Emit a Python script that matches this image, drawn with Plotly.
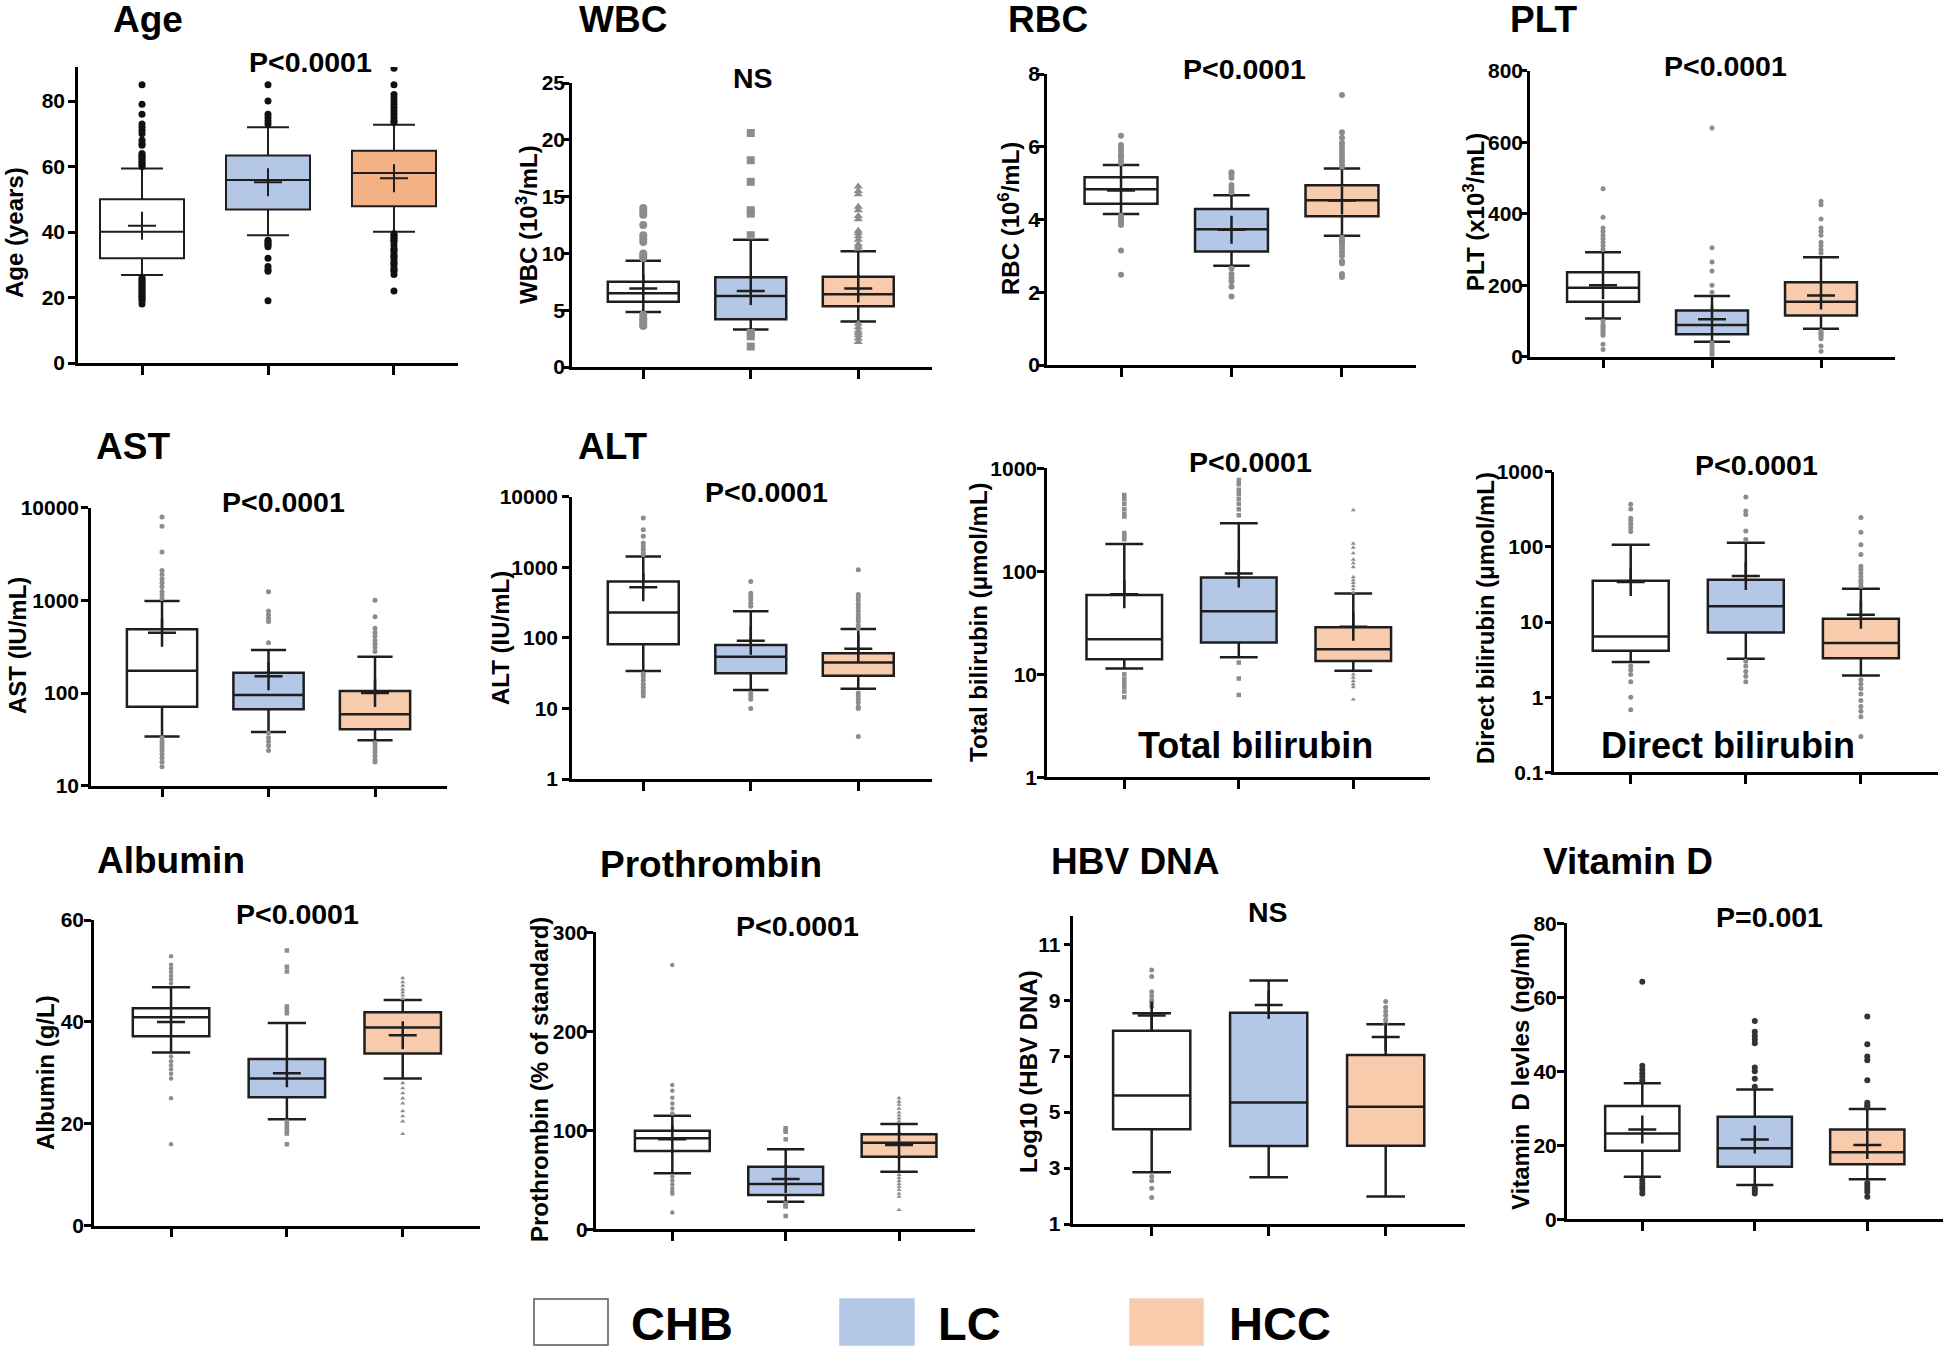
import plotly.graph_objects as go

# ======================= DATA =======================
groups = ["CHB", "LC", "HCC"]

# Age (years)
age_lower = [26.9, 39.0, 40.1]
age_q1 = [32.0, 46.9, 47.9]
age_median = [40.1, 55.9, 58.0]
age_q3 = [50.0, 63.4, 64.8]
age_upper = [59.4, 72.0, 72.8]
age_mean = [41.9, 55.2, 56.4]
age_out_chb = [60, 60.5, 61, 61.5, 62, 62.5, 63, 63.5, 64, 66.5, 67, 68, 70, 71, 72, 73, 76, 79, 85,
               26, 25.5, 25, 24.5, 24, 23.5, 23, 22.5, 22, 21.5, 21, 20.5, 20, 19.5, 19, 18]
age_out_lc = [73, 74, 75, 76, 80, 85, 37.5, 37, 36.5, 36, 35.5, 32, 29.5, 28.5, 28, 19]
age_out_hcc = [73.5, 74, 75, 76, 77, 78, 79, 80, 81, 82, 85, 90, 39.5, 39, 38.5, 38, 37.5, 37, 36, 35,
               34.5, 34, 33, 32.5, 32, 31, 30.5, 30, 29, 28.5, 28, 27, 22]

# WBC (10^3/mL)
wbc_lower = [4.85, 3.3, 4.0]
wbc_q1 = [5.75, 4.2, 5.35]
wbc_median = [6.5, 6.25, 6.4]
wbc_q3 = [7.5, 7.9, 7.95]
wbc_upper = [9.35, 11.2, 10.2]
wbc_mean = [6.9, 6.7, 6.9]
wbc_out_chb = [9.6, 9.8, 10.0, 11.0, 11.3, 11.6, 12.5, 13.4, 13.7, 14.0, 4.6, 4.3, 4.1, 3.9, 3.7, 3.6]
wbc_out_lc = [11.6, 13.5, 13.8, 16.3, 18.2, 20.6, 3.0, 2.7, 1.8]
wbc_out_hcc = [10.4, 10.6, 10.8, 11.2, 11.5, 11.8, 12.0, 13.0, 13.3, 13.8, 14.1, 15.2, 15.5, 15.9,
               3.8, 3.5, 3.2, 3.0, 2.8, 2.5, 2.2]

# RBC (10^6/mL)
rbc_lower = [4.15, 2.73, 3.55]
rbc_q1 = [4.43, 3.12, 4.09]
rbc_median = [4.83, 3.73, 4.53]
rbc_q3 = [5.16, 4.29, 4.94]
rbc_upper = [5.5, 4.67, 5.4]
rbc_mean = [4.8, 3.72, 4.52]
rbc_out_chb = [5.55, 5.6, 5.7, 5.75, 5.8, 5.9, 6.0, 6.05, 6.3, 4.1, 4.05, 4.0, 3.95, 3.9, 3.85, 3.15, 2.48]
rbc_out_lc = [4.75, 4.85, 4.95, 5.15, 5.25, 5.3, 2.65, 2.5, 2.4, 2.3, 2.15, 1.88]
rbc_out_hcc = [5.45, 5.5, 5.6, 5.7, 5.8, 5.9, 6.0, 6.1, 6.25, 6.4, 7.42, 3.5, 3.45, 3.4, 3.35, 3.3,
               3.2, 3.1, 3.0, 2.85, 2.8, 2.5, 2.42]

# PLT (x10^3/mL)
plt_lower = [107, 42, 78]
plt_q1 = [154, 63, 115]
plt_median = [193, 89, 154]
plt_q3 = [236, 129, 208]
plt_upper = [292, 170, 278]
plt_mean = [200, 105, 171]
plt_out_chb = [300, 310, 320, 330, 340, 350, 360, 390, 470, 100, 90, 85, 80, 75, 70, 65, 60, 35, 20]
plt_out_lc = [180, 200, 240, 265, 305, 640, 38, 30, 25, 18, 10, 5]
plt_out_hcc = [290, 300, 310, 320, 340, 350, 360, 385, 425, 435, 72, 68, 64, 60, 55, 50, 30, 15]

# AST (IU/mL)
ast_lower = [34, 38, 31]
ast_q1 = [71, 66.7, 40.6]
ast_median = [174, 95, 59]
ast_q3 = [487, 165.6, 105]
ast_upper = [984, 291, 246]
ast_mean = [447, 152, 100]
ast_out_chb = [7950, 6300, 3330, 2100, 1900, 1700, 1550, 1400, 1250, 1150, 1050,
               33, 30, 28, 26, 24, 22, 20, 18, 16]
ast_out_lc = [1240, 770, 700, 640, 590, 348, 37, 33, 30, 27, 24]
ast_out_hcc = [1000, 665, 500, 450, 410, 370, 340, 310, 280, 29, 27, 25, 23, 21, 19, 18]

# ALT (IU/mL)
alt_lower = [34, 18.3, 19]
alt_q1 = [81, 31.6, 29]
alt_median = [229, 54, 44.7]
alt_q3 = [627, 79.5, 60.7]
alt_upper = [1420, 239, 133]
alt_mean = [523, 91, 70]
alt_out_chb = [5000, 3400, 2750, 2200, 2000, 1800, 1600, 1500, 31, 28, 25, 22, 20, 18, 16.5, 15]
alt_out_lc = [630, 430, 390, 350, 310, 280, 16.5, 15, 13.5, 10]
alt_out_hcc = [922, 410, 380, 340, 300, 270, 240, 210, 190, 170, 150, 135,
               16.5, 15, 13.5, 12, 10.5, 10, 4]

# Total bilirubin (umol/mL)
tbil_lower = [11.4, 14.6, 10.8]
tbil_q1 = [14.0, 20.4, 13.5]
tbil_median = [21.9, 41.0, 17.5]
tbil_q3 = [58.8, 87.0, 28.6]
tbil_upper = [184, 292, 61]
tbil_mean = [60, 95, 29]
tbil_out_chb = [550, 500, 450, 400, 360, 340, 235, 220, 205, 10, 9, 8.2, 7.5, 6.8, 6.0]
tbil_out_lc = [770, 700, 620, 560, 500, 450, 400, 350, 13, 9.1, 6.3]
tbil_out_hcc = [393, 186, 170, 150, 130, 120, 110, 88, 82, 77, 72, 67, 62, 10, 9.3, 8.6, 8.0, 7.5, 5.7]

# Direct bilirubin (umol/mL)
dbil_lower = [2.93, 3.24, 1.94]
dbil_q1 = [4.14, 7.25, 3.3]
dbil_median = [6.43, 16.2, 5.25]
dbil_q3 = [35.5, 36.6, 11.07]
dbil_upper = [107, 113, 27.8]
dbil_mean = [34, 41, 12.5]
dbil_out_chb = [370, 320, 240, 220, 200, 180, 160, 2.6, 2.3, 2.0, 1.6, 1.0, 0.68]
dbil_out_lc = [460, 300, 270, 163, 125, 3.0, 2.6, 2.2, 1.9, 1.6]
dbil_out_hcc = [245, 157, 107, 79, 55, 50, 45, 40, 36, 33, 30, 1.7, 1.5, 1.3, 1.1, 0.9, 0.75, 0.65, 0.55, 0.3]

# Albumin (g/L)
alb_lower = [34.0, 20.9, 28.9]
alb_q1 = [37.2, 25.2, 33.8]
alb_median = [40.9, 28.9, 38.9]
alb_q3 = [42.7, 32.7, 41.9]
alb_upper = [46.8, 39.8, 44.3]
alb_mean = [40.0, 29.9, 37.4]
alb_out_chb = [52.9, 51.2, 50.5, 49.8, 49, 48.3, 47.6, 33.2, 32.3, 31.5, 30.7, 29.8, 28.9, 25, 16]
alb_out_lc = [54, 50.8, 49.9, 43, 42.4, 41.7, 20.4, 19.8, 19.2, 18.6, 18.1, 16]
alb_out_hcc = [48.6, 47.8, 47.1, 46.4, 45.8, 45.2, 44.5, 28, 27, 26, 25, 24, 22.5, 21.5, 20.5, 18]

# Prothrombin (% of standard)
pro_lower = [56.6, 27.9, 58.2]
pro_q1 = [79, 34.6, 73.3]
pro_median = [92, 45.8, 87.5]
pro_q3 = [99.6, 63.3, 96]
pro_upper = [114.7, 80.8, 106.4]
pro_mean = [91, 50.8, 85.2]
pro_out_chb = [267, 145.8, 140, 133, 127, 122, 117, 53, 49, 45, 41, 38, 36, 17]
pro_out_lc = [102, 100, 98.6, 91, 26, 24, 23, 13.4]
pro_out_hcc = [132.6, 129, 126, 122, 118, 115, 112, 109, 55, 52, 49, 46, 43, 40, 36, 33, 19.5]

# HBV DNA (log10)
hbv_lower = [2.85, 2.67, 1.98]
hbv_q1 = [4.39, 3.79, 3.8]
hbv_median = [5.59, 5.34, 5.19]
hbv_q3 = [7.91, 8.55, 7.04]
hbv_upper = [8.53, 9.7, 8.14]
hbv_mean = [8.45, 8.83, 7.68]
hbv_out_chb = [10.08, 9.85, 9.3, 9.15, 9.0, 8.9, 8.77, 2.7, 2.55, 2.28, 1.95]
hbv_out_lc = []
hbv_out_hcc = [8.95, 8.75, 8.6, 8.45, 8.3, 8.18]

# Vitamin D (ng/ml)
vitd_lower = [11.5, 9.3, 10.8]
vitd_q1 = [18.5, 14.2, 14.9]
vitd_median = [23.2, 19.2, 18.1]
vitd_q3 = [30.6, 27.7, 24.3]
vitd_upper = [36.8, 35.1, 29.8]
vitd_mean = [24.3, 21.6, 20.1]
vitd_out_chb = [64.2, 41.5, 40.5, 39.5, 38.5, 37.6, 10.6, 9.7, 8.8, 8.0, 7.0]
vitd_out_lc = [53.6, 50.7, 49.6, 48.6, 47.6, 41, 40, 38, 35.8, 8.4, 7.7, 7.0]
vitd_out_hcc = [54.8, 47.3, 44, 43, 37.6, 31.5, 30.8, 30.4, 9.8, 9.0, 8.2, 7.4, 6.1]

# ======================= LAYOUT / STYLE =======================
FONT = "Liberation Sans, Arial, Helvetica, sans-serif"
FW, FH = 1946, 1350

def fx(px):
    return min(1.0, max(0.0, px / FW))

def fy(py):
    return min(1.0, max(0.0, 1 - py / FH))

fills = ["#ffffff", "#b4c7e7", "#f8cbad"]
GRAY = "#8c8c8c"
LINE = "#1e1e1e"

panels = [
    dict(title="Age", ytitle="Age (years)", p="P<0.0001",
         stats=(age_lower, age_q1, age_median, age_q3, age_upper, age_mean),
         outs=(age_out_chb, age_out_lc, age_out_hcc),
         box=(78, 458, 67, 363), xr=[-0.508, 2.508], yr=[0, 90.4], log=False,
         tv=[0, 20, 40, 60, 80], tt=None, bw=0.667, so=-1,
         tpos=(148, 19), ppos=(310, 62), ytpos=(14, 233),
         mk=dict(sym=["circle"] * 3, size=7, color="#111111"),
         fills=["#ffffff", "#b4c7e7", "#f4b183"], lw=2.0),
    dict(title="WBC", ytitle="WBC (10<sup>3</sup>/mL)", p="NS",
         stats=(wbc_lower, wbc_q1, wbc_median, wbc_q3, wbc_upper, wbc_mean),
         outs=(wbc_out_chb, wbc_out_lc, wbc_out_hcc),
         box=(572, 932, 83, 367), xr=[-0.663, 2.686], yr=[0, 25], log=False,
         tv=[0, 5, 10, 15, 20, 25], tt=None, bw=0.66, so=-7,
         tpos=(623, 19), ppos=(753, 78), ytpos=(527, 225),
         mk=dict(sym=["circle", "square", "triangle-up"], size=8, color=GRAY)),
    dict(title="RBC", ytitle="RBC (10<sup>6</sup>/mL)", p="P<0.0001",
         stats=(rbc_lower, rbc_q1, rbc_median, rbc_q3, rbc_upper, rbc_mean),
         outs=(rbc_out_chb, rbc_out_lc, rbc_out_hcc),
         box=(1047, 1416, 74, 365), xr=[-0.67, 2.67], yr=[0, 8], log=False,
         tv=[0, 2, 4, 6, 8], tt=None, bw=0.66, so=-7,
         tpos=(1048, 19), ppos=(1244, 69), ytpos=(1009, 219),
         mk=dict(sym=["circle"] * 3, size=6, color=GRAY)),
    dict(title="PLT", ytitle="PLT (x10<sup>3</sup>/mL)", p="P<0.0001",
         stats=(plt_lower, plt_q1, plt_median, plt_q3, plt_upper, plt_mean),
         outs=(plt_out_chb, plt_out_lc, plt_out_hcc),
         box=(1530, 1895, 70.7, 356.7), xr=[-0.67, 2.679], yr=[0, 800], log=False,
         tv=[0, 200, 400, 600, 800], tt=None, bw=0.66, so=-7,
         tpos=(1544, 19), ppos=(1725, 66), ytpos=(1474, 212),
         mk=dict(sym=["circle"] * 3, size=5, color=GRAY)),
    dict(title="AST", ytitle="AST (IU/mL)", p="P<0.0001",
         stats=(ast_lower, ast_q1, ast_median, ast_q3, ast_upper, ast_mean),
         outs=(ast_out_chb, ast_out_lc, ast_out_hcc),
         box=(91, 447, 507.7, 785.7), xr=[-0.667, 2.676], yr=[1, 4], log=True,
         tv=[10, 100, 1000, 10000], tt=["10", "100", "1000", "10000"], bw=0.66, so=-2,
         tpos=(133, 446), ppos=(283, 502), ytpos=(17, 646),
         mk=dict(sym=["circle"] * 3, size=5, color=GRAY)),
    dict(title="ALT", ytitle="ALT (IU/mL)", p="P<0.0001",
         stats=(alt_lower, alt_q1, alt_median, alt_q3, alt_upper, alt_mean),
         outs=(alt_out_chb, alt_out_lc, alt_out_hcc),
         box=(572, 931.7, 496.7, 779), xr=[-0.663, 2.683], yr=[0, 4], log=True,
         tv=[1, 10, 100, 1000, 10000], tt=["1", "10", "100", "1000", "10000"], bw=0.66, so=0,
         tpos=(613, 446), ppos=(766, 492), ytpos=(500, 638),
         mk=dict(sym=["circle"] * 3, size=5, color=GRAY)),
    dict(title=None, ytitle="Total bilirubin (μmol/mL)", p="P<0.0001",
         stats=(tbil_lower, tbil_q1, tbil_median, tbil_q3, tbil_upper, tbil_mean),
         outs=(tbil_out_chb, tbil_out_lc, tbil_out_hcc),
         box=(1047, 1430, 468.3, 777.3), xr=[-0.675, 2.67], yr=[0, 3], log=True,
         tv=[1, 10, 100, 1000], tt=["1", "10", "100", "1000"], bw=0.66, so=-4,
         tpos=None, ppos=(1250, 462), ytpos=(979, 622),
         inlabel=("Total bilirubin", 1255, 745),
         mk=dict(sym=["square", "square", "triangle-up"], size=4.5, color=GRAY)),
    dict(title=None, ytitle="Direct bilirubin (μmol/mL)", p="P<0.0001",
         stats=(dbil_lower, dbil_q1, dbil_median, dbil_q3, dbil_upper, dbil_mean),
         outs=(dbil_out_chb, dbil_out_lc, dbil_out_hcc),
         box=(1554.3, 1938, 471.7, 772.3), xr=[-0.664, 2.67], yr=[-1, 3], log=True,
         tv=[0.1, 1, 10, 100, 1000], tt=["0.1", "1", "10", "100", "1000"], bw=0.66, so=-3,
         tpos=None, ppos=(1756, 465), ytpos=(1485, 618),
         inlabel=("Direct bilirubin", 1728, 745),
         mk=dict(sym=["circle"] * 3, size=5, color=GRAY)),
    dict(title="Albumin", ytitle="Albumin (g/L)", p="P<0.0001",
         stats=(alb_lower, alb_q1, alb_median, alb_q3, alb_upper, alb_mean),
         outs=(alb_out_chb, alb_out_lc, alb_out_hcc),
         box=(94, 480, 920, 1225.7), xr=[-0.665, 2.667], yr=[0, 60], log=False,
         tv=[0, 20, 40, 60], tt=None, bw=0.66, so=-4,
         tpos=(171, 860), ppos=(297, 914), ytpos=(45, 1073),
         mk=dict(sym=["circle", "square", "triangle-up"], size=4.5, color=GRAY)),
    dict(title="Prothrombin", ytitle="Prothrombin (% of standard)", p="P<0.0001",
         stats=(pro_lower, pro_q1, pro_median, pro_q3, pro_upper, pro_mean),
         outs=(pro_out_chb, pro_out_lc, pro_out_hcc),
         box=(595.7, 975, 932.3, 1229.3), xr=[-0.676, 2.67], yr=[0, 300], log=False,
         tv=[0, 100, 200, 300], tt=None, bw=0.66, so=-6,
         tpos=(711, 864), ppos=(797, 926), ytpos=(539, 1080),
         mk=dict(sym=["circle", "square", "triangle-up"], size=4.5, color=GRAY)),
    dict(title="HBV DNA", ytitle="Log10 (HBV DNA)", p="NS",
         stats=(hbv_lower, hbv_q1, hbv_median, hbv_q3, hbv_upper, hbv_mean),
         outs=(hbv_out_chb, hbv_out_lc, hbv_out_hcc),
         box=(1073.3, 1465, 915.7, 1224), xr=[-0.67, 2.678], yr=[1, 12.02], log=False,
         tv=[1, 3, 5, 7, 9, 11], tt=None, bw=0.66, so=-1,
         tpos=(1135, 861), ppos=(1268, 912), ytpos=(1028, 1072),
         mk=dict(sym=["circle"] * 3, size=5, color=GRAY)),
    dict(title="Vitamin D", ytitle="Vitamin  D levles (ng/ml)", p="P=0.001",
         stats=(vitd_lower, vitd_q1, vitd_median, vitd_q3, vitd_upper, vitd_mean),
         outs=(vitd_out_chb, vitd_out_lc, vitd_out_hcc),
         box=(1566.7, 1943, 923.3, 1219.3), xr=[-0.672, 2.673], yr=[0, 80], log=False,
         tv=[0, 20, 40, 60, 80], tt=None, bw=0.66, so=-4,
         tpos=(1628, 861), ppos=(1769, 917), ytpos=(1520, 1072),
         mk=dict(sym=["circle"] * 3, size=6, color="#333333")),
]

fig = go.Figure()
layout_axes = {}
annotations = []

for i, pn in enumerate(panels):
    n = i + 1
    xa = "x" if n == 1 else f"x{n}"
    ya = "y" if n == 1 else f"y{n}"
    lo, q1, med, q3, hi, mean = pn["stats"]
    pfills = pn.get("fills", fills)
    lw = pn.get("lw", 2.5)

    # outliers (drawn first, behind the whiskers)
    for g in range(3):
        vals = pn["outs"][g]
        if not vals:
            continue
        fig.add_trace(go.Scatter(
            x=[g] * len(vals), y=vals, mode="markers", xaxis=xa, yaxis=ya,
            marker=dict(symbol=pn["mk"]["sym"][g], size=pn["mk"]["size"],
                        color=pn["mk"]["color"], line=dict(width=0)),
            showlegend=False, hoverinfo="y"))

    # boxes from the precomputed statistics
    for g in range(3):
        fig.add_trace(go.Box(
            x=[g], q1=[q1[g]], median=[med[g]], q3=[q3[g]],
            lowerfence=[lo[g]], upperfence=[hi[g]],
            width=pn["bw"], whiskerwidth=0.5, boxpoints=False,
            fillcolor=pfills[g], line=dict(color=LINE, width=lw),
            xaxis=xa, yaxis=ya, name=groups[g], showlegend=False))

    # means as "+"
    fig.add_trace(go.Scatter(
        x=[0, 1, 2], y=mean, mode="markers", xaxis=xa, yaxis=ya,
        marker=dict(symbol="cross-thin", size=20, color=LINE,
                    line=dict(width=lw, color=LINE)),
        showlegend=False, hoverinfo="y"))

    x0, x1, yt, yb = pn["box"]
    xkey = "xaxis" if n == 1 else f"xaxis{n}"
    ykey = "yaxis" if n == 1 else f"yaxis{n}"
    layout_axes[xkey] = dict(
        domain=[fx(x0), fx(x1)], anchor=ya, range=pn["xr"], automargin=False,
        tickvals=[0, 1, 2], showticklabels=False, ticks="outside", ticklen=9,
        tickwidth=2.5, tickcolor="#000", showline=True, linecolor="#000",
        linewidth=2.5, showgrid=False, zeroline=False, fixedrange=True)
    yax = dict(
        domain=[fy(yb), fy(yt)], anchor=xa, range=pn["yr"], automargin=False,
        tickvals=pn["tv"], ticks="outside", ticklen=7, tickwidth=2.5,
        ticklabelstandoff=pn["so"],
        tickcolor="#000", showline=True, linecolor="#000", linewidth=2.5,
        showgrid=False, zeroline=False, fixedrange=True,
        tickfont=dict(family=FONT, size=21, color="#000", weight="bold"))
    if pn["tt"] is not None:
        yax["ticktext"] = pn["tt"]
    if pn["log"]:
        yax["type"] = "log"
    layout_axes[ykey] = yax

    # texts
    if pn["title"]:
        annotations.append(dict(
            text=pn["title"], x=fx(pn["tpos"][0]), y=fy(pn["tpos"][1]),
            xref="paper", yref="paper", xanchor="center", yanchor="middle",
            showarrow=False, font=dict(family=FONT, size=37, color="#000", weight="bold")))
    annotations.append(dict(
        text=pn["p"], x=fx(pn["ppos"][0]), y=fy(pn["ppos"][1]),
        xref="paper", yref="paper", xanchor="center", yanchor="middle",
        showarrow=False, font=dict(family=FONT, size=28.5, color="#000", weight="bold")))
    annotations.append(dict(
        text=pn["ytitle"], x=fx(pn["ytpos"][0]), y=fy(pn["ytpos"][1]),
        xref="paper", yref="paper", xanchor="center", yanchor="middle",
        textangle=-90, showarrow=False,
        font=dict(family=FONT, size=24, color="#000", weight="bold")))
    if "inlabel" in pn:
        t, cx, cy = pn["inlabel"]
        annotations.append(dict(
            text=t, x=fx(cx), y=fy(cy), xref="paper", yref="paper",
            xanchor="center", yanchor="middle", showarrow=False,
            font=dict(family=FONT, size=36, color="#000", weight="bold")))

# legend drawn as shapes + labels
legend_items = [(534, 608, 629), (840, 914, 936), (1130, 1203, 1227)]
shapes = []
for g, (bx0, bx1, tx) in enumerate(legend_items):
    shapes.append(dict(type="rect", xref="paper", yref="paper",
                       x0=fx(bx0), x1=fx(bx1), y0=fy(1345), y1=fy(1299),
                       fillcolor=fills[g],
                       line=dict(color="#555555" if g == 0 else fills[g], width=1.5)))
    annotations.append(dict(
        text=groups[g], x=fx(tx), y=fy(1323), xref="paper", yref="paper",
        xanchor="left", yanchor="middle", showarrow=False,
        font=dict(family=FONT, size=47, color="#000", weight="bold")))

fig.update_layout(
    width=FW, height=FH, margin=dict(l=0, r=0, t=0, b=0, pad=0, autoexpand=False),
    paper_bgcolor="#ffffff", plot_bgcolor="#ffffff",
    font=dict(family=FONT, color="#000"),
    boxmode="overlay", showlegend=False,
    annotations=annotations, shapes=shapes, **layout_axes)

# place the figure exactly at the page origin (no default body margin / scrollbars)
POST = ("document.documentElement.style.overflow='hidden';"
        "document.body.style.margin='0';document.body.style.overflow='hidden';"
        "var d=document.getElementById('{plot_id}');"
        "d.style.position='absolute';d.style.left='0px';d.style.top='0px';")

fig.write_html("out.html", post_script=POST, config={"displayModeBar": False})
